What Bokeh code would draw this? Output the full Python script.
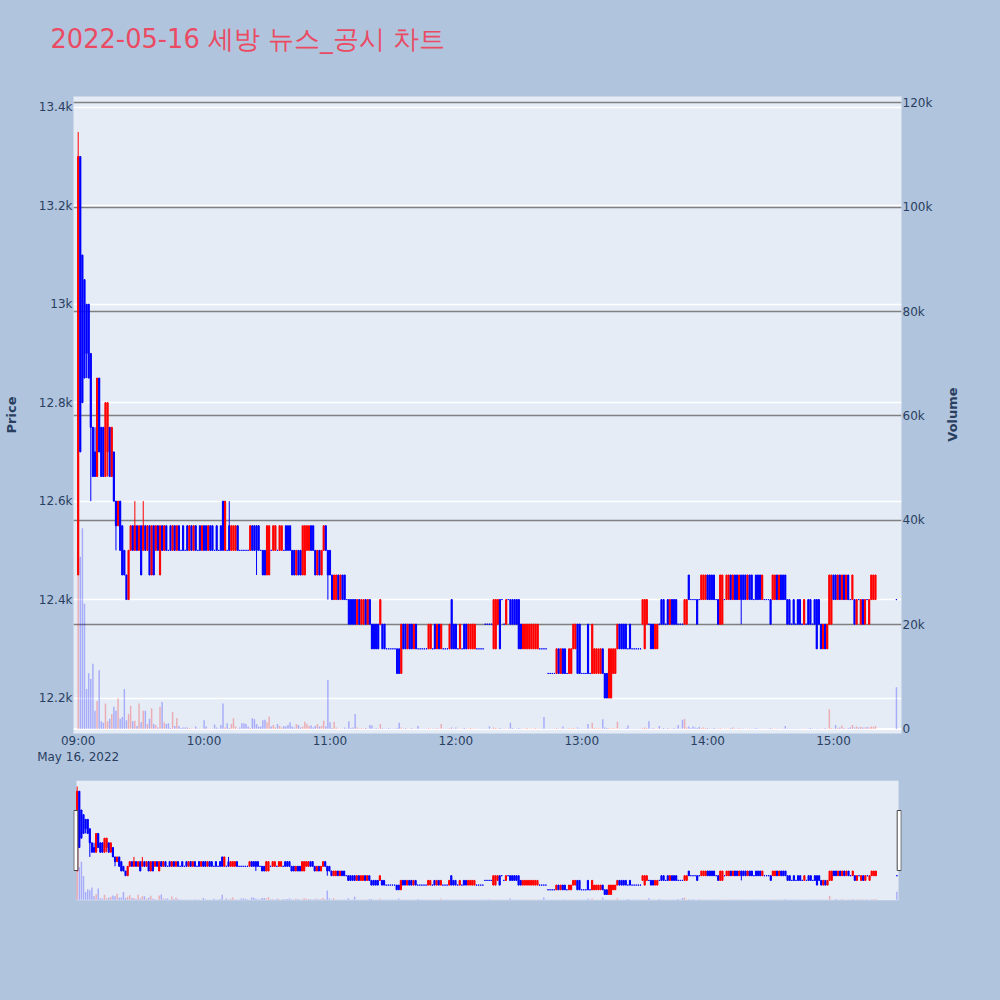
import math
from datetime import datetime, timedelta

from bokeh.plotting import figure
from bokeh.models import (Range1d, LinearAxis, FixedTicker, DatetimeTickFormatter,
                          Grid, Span, ColumnDataSource, BoxAnnotation, Title, Label)
from bokeh.layouts import column
from bokeh.embed import file_html
from bokeh.resources import INLINE

TITLE = "2022-05-16 세방 뉴스_공시 차트"
SESSION_OPEN = datetime(2022, 5, 16, 9, 0)

# minutes after 09:00 that have a candle (15:20-15:30 is the closing auction)
trade_minutes = list(range(0, 381)) + [390]

opens = [
    12450, 13300, 13100, 13050, 13000, 13000, 12900, 12750, 12700, 12650,
    12850, 12750, 12750, 12650, 12700, 12750, 12650, 12700, 12600, 12550,
    12600, 12550, 12500, 12450, 12400, 12500, 12550, 12500, 12550, 12500,
    12550, 12500, 12550, 12500, 12550, 12450, 12550, 12500, 12550, 12450,
    12550, 12500, 12550, 12500, 12550, 12500, 12550, 12500, 12550, 12500,
    12550, 12500, 12550, 12500, 12550, 12500, 12550, 12500, 12550, 12500,
    12550, 12550, 12500, 12550, 12550, 12500, 12550, 12500, 12550, 12600,
    12500, 12500, 12550, 12500, 12500, 12500, 12550, 12500, 12500, 12500,
    12500, 12500, 12500, 12550, 12550, 12550, 12550, 12500, 12500, 12500,
    12450, 12450, 12500, 12500, 12500, 12500, 12500, 12500, 12500, 12550,
    12550, 12550, 12500, 12500, 12450, 12500, 12500, 12450, 12450, 12500,
    12500, 12550, 12550, 12500, 12450, 12500, 12450, 12500, 12550, 12500,
    12500, 12450, 12400, 12400, 12450, 12400, 12450, 12450, 12400, 12400,
    12400, 12400, 12400, 12350, 12400, 12350, 12350, 12400, 12350, 12400,
    12350, 12350, 12350, 12350, 12350, 12350, 12350, 12300, 12300, 12300,
    12300, 12300, 12300, 12300, 12250, 12350, 12350, 12300, 12350, 12350,
    12300, 12350, 12300, 12300, 12300, 12300, 12300, 12300, 12300, 12300,
    12350, 12300, 12350, 12300, 12300, 12300, 12300, 12300, 12400, 12350,
    12350, 12300, 12300, 12300, 12350, 12350, 12300, 12300, 12300, 12300,
    12300, 12300, 12300, 12300, 12350, 12350, 12350, 12350, 12300, 12300,
    12350, 12400, 12400, 12350, 12350, 12400, 12400, 12400, 12400, 12400,
    12400, 12350, 12300, 12300, 12300, 12300, 12300, 12300, 12300, 12300,
    12300, 12300, 12300, 12300, 12250, 12250, 12250, 12250, 12250, 12300,
    12250, 12300, 12300, 12250, 12250, 12250, 12300, 12300, 12350, 12350,
    12250, 12250, 12250, 12350, 12250, 12250, 12250, 12250, 12250, 12250,
    12300, 12250, 12250, 12200, 12200, 12250, 12250, 12300, 12350, 12350,
    12350, 12350, 12300, 12350, 12300, 12300, 12300, 12300, 12300, 12350,
    12300, 12350, 12350, 12350, 12350, 12300, 12300, 12350, 12400, 12400,
    12350, 12400, 12350, 12400, 12400, 12400, 12350, 12350, 12350, 12350,
    12350, 12450, 12400, 12400, 12400, 12400, 12400, 12400, 12400, 12400,
    12450, 12450, 12450, 12450, 12400, 12400, 12350, 12350, 12400, 12400,
    12400, 12450, 12400, 12450, 12450, 12400, 12450, 12450, 12450, 12400,
    12450, 12450, 12400, 12450, 12450, 12450, 12400, 12400, 12400, 12400,
    12400, 12400, 12400, 12450, 12400, 12450, 12450, 12450, 12400, 12400,
    12350, 12400, 12350, 12400, 12400, 12350, 12350, 12350, 12400, 12400,
    12350, 12400, 12400, 12400, 12350, 12300, 12350, 12300, 12350, 12350,
    12450, 12450, 12400, 12450, 12400, 12450, 12400, 12450, 12400, 12400,
    12400, 12350, 12400, 12350, 12400, 12350, 12400, 12350, 12400, 12400,
    12400,
    12400,
]

closes = [
    13300, 12700, 12800, 12850, 12900, 12850, 12750, 12650, 12650, 12850,
    12700, 12650, 12650, 12800, 12800, 12650, 12750, 12600, 12550, 12600,
    12500, 12450, 12450, 12400, 12500, 12550, 12500, 12550, 12500, 12550,
    12450, 12550, 12500, 12550, 12450, 12550, 12450, 12550, 12500, 12550,
    12500, 12550, 12500, 12500, 12500, 12550, 12500, 12550, 12500, 12500,
    12500, 12500, 12500, 12550, 12500, 12550, 12500, 12500, 12500, 12550,
    12500, 12500, 12550, 12500, 12500, 12500, 12500, 12500, 12500, 12500,
    12600, 12500, 12500, 12550, 12550, 12550, 12500, 12500, 12500, 12500,
    12500, 12500, 12550, 12500, 12500, 12500, 12500, 12500, 12450, 12450,
    12550, 12550, 12500, 12550, 12550, 12500, 12550, 12550, 12500, 12500,
    12500, 12500, 12450, 12450, 12500, 12450, 12450, 12550, 12550, 12550,
    12550, 12500, 12500, 12450, 12500, 12450, 12500, 12550, 12500, 12450,
    12450, 12400, 12450, 12450, 12400, 12450, 12400, 12400, 12400, 12350,
    12350, 12350, 12350, 12400, 12350, 12400, 12400, 12350, 12400, 12350,
    12300, 12300, 12300, 12300, 12400, 12300, 12300, 12300, 12300, 12300,
    12300, 12300, 12250, 12250, 12350, 12300, 12300, 12350, 12300, 12300,
    12350, 12300, 12300, 12300, 12300, 12300, 12300, 12350, 12350, 12300,
    12300, 12350, 12300, 12350, 12300, 12300, 12300, 12350, 12300, 12300,
    12300, 12300, 12350, 12300, 12300, 12300, 12350, 12350, 12350, 12350,
    12300, 12300, 12300, 12300, 12350, 12350, 12350, 12350, 12400, 12400,
    12400, 12300, 12400, 12350, 12400, 12400, 12350, 12350, 12350, 12350,
    12300, 12300, 12350, 12350, 12350, 12350, 12350, 12350, 12350, 12350,
    12300, 12300, 12300, 12300, 12250, 12250, 12250, 12250, 12300, 12250,
    12300, 12250, 12250, 12250, 12300, 12300, 12350, 12350, 12250, 12250,
    12250, 12250, 12250, 12250, 12250, 12350, 12300, 12300, 12300, 12300,
    12250, 12200, 12200, 12300, 12300, 12300, 12300, 12350, 12300, 12300,
    12300, 12300, 12300, 12300, 12300, 12300, 12300, 12300, 12300, 12400,
    12400, 12400, 12350, 12300, 12300, 12350, 12350, 12350, 12350, 12350,
    12350, 12350, 12400, 12350, 12350, 12350, 12350, 12350, 12350, 12400,
    12400, 12400, 12400, 12400, 12400, 12350, 12400, 12450, 12450, 12450,
    12400, 12400, 12400, 12400, 12400, 12350, 12450, 12450, 12400, 12450,
    12450, 12400, 12450, 12400, 12400, 12450, 12400, 12400, 12400, 12450,
    12400, 12400, 12400, 12400, 12400, 12400, 12450, 12400, 12400, 12400,
    12350, 12450, 12450, 12400, 12450, 12400, 12400, 12400, 12350, 12350,
    12350, 12350, 12350, 12350, 12350, 12350, 12400, 12350, 12350, 12350,
    12350, 12350, 12300, 12350, 12300, 12350, 12300, 12350, 12450, 12450,
    12400, 12400, 12450, 12400, 12450, 12400, 12450, 12400, 12400, 12450,
    12350, 12400, 12400, 12400, 12350, 12400, 12400, 12400, 12450, 12450,
    12450,
    12400,
]

# wick extremes that reach beyond the candle body (minute index -> price)
wick_highs = {0: 13350, 8: 12750, 27: 12600, 31: 12600, 72: 12600}
wick_lows = {4: 12850, 6: 12600, 14: 12650, 18: 12500, 85: 12450, 119: 12400, 316: 12350}

volumes = [
    36000, 33000, 38500, 24000, 7700, 10700, 9600, 12500, 3500, 5400,
    11300, 1500, 1200, 4900, 1500, 2000, 2900, 4300, 3500, 5900,
    2000, 2300, 7700, 1700, 2900, 4500, 1500, 1600, 600, 4900,
    1300, 3500, 3500, 1000, 2000, 4000, 1000, 800, 300, 4300,
    5200, 1300, 1000, 1100, 200, 3300, 600, 2100, 600, 200,
    300, 300, 300, 200, 100, 100, 500, 100, 100, 100,
    1700, 500, 100, 100, 100, 900, 300, 100, 800, 4900,
    300, 1100, 200, 1000, 2100, 500, 100, 300, 1100, 1100,
    1000, 500, 200, 2100, 1900, 1000, 500, 500, 1700, 1800,
    1300, 2400, 500, 800, 300, 1000, 600, 300, 600, 500,
    800, 1300, 500, 300, 1000, 800, 300, 500, 1400, 1000,
    600, 700, 300, 600, 1000, 500, 600, 1600, 500, 9400,
    1300, 200, 1400, 300, 100, 100, 100, 300, 100, 1500,
    200, 300, 2900, 300, 100, 200, 100, 200, 100, 800,
    700, 100, 200, 100, 1000, 200, 100, 100, 200, 100,
    100, 100, 200, 1200, 300, 100, 200, 100, 100, 200,
    100, 100, 600, 100, 100, 100, 100, 200, 100, 100,
    100, 200, 100, 1000, 100, 100, 100, 200, 300, 100,
    300, 100, 100, 100, 200, 100, 100, 200, 100, 100,
    100, 100, 100, 100, 100, 100, 500, 100, 300, 200,
    100, 200, 100, 100, 100, 100, 1200, 200, 100, 100,
    200, 100, 100, 100, 200, 100, 100, 100, 200, 100,
    100, 100, 2300, 100, 100, 100, 100, 100, 200, 100,
    100, 500, 100, 100, 200, 100, 200, 100, 300, 100,
    100, 100, 100, 1000, 100, 1200, 200, 100, 200, 100,
    1900, 300, 200, 200, 100, 200, 100, 1400, 100, 100,
    100, 200, 700, 100, 100, 100, 100, 100, 100, 200,
    300, 200, 1500, 100, 200, 100, 100, 600, 100, 200,
    100, 200, 100, 100, 200, 100, 800, 100, 1800, 2000,
    300, 500, 200, 500, 300, 200, 400, 200, 300, 200,
    200, 100, 100, 200, 100, 100, 200, 100, 100, 100,
    100, 200, 300, 100, 100, 200, 100, 100, 100, 100,
    100, 100, 100, 200, 100, 100, 100, 100, 100, 100,
    200, 100, 100, 100, 100, 100, 100, 600, 100, 100,
    100, 100, 100, 100, 100, 100, 100, 100, 100, 200,
    100, 100, 100, 100, 100, 100, 200, 100, 3800, 200,
    100, 800, 200, 300, 700, 200, 100, 200, 300, 800,
    300, 500, 300, 400, 300, 300, 400, 300, 500, 400,
    600,
    8000,
]

price_ticks = [12200, 12400, 12600, 12800, 13000, 13200, 13400]
price_tick_labels = ["12.2k", "12.4k", "12.6k", "12.8k", "13k", "13.2k", "13.4k"]
volume_ticks = [0, 20000, 40000, 60000, 80000, 100000, 120000]
volume_tick_labels = ["0", "20k", "40k", "60k", "80k", "100k", "120k"]
hour_ticks = [SESSION_OPEN + timedelta(hours=h) for h in range(7)]

# ---------------------------------------------------------------- styling
PAGE_BG = "#b0c4de"
PLOT_BG = "#e5ecf6"
INC = "#ff0000"
DEC = "#0000ff"
TXT = "#2a3f5f"
FONT = "DejaVu Sans"
MIN = 60000.0


def ms(dt):
    return (dt - datetime(1970, 1, 1)).total_seconds() * 1000.0


times = [SESSION_OPEN + timedelta(minutes=m) for m in trade_minutes]
highs = [wick_highs.get(i, max(o, c)) for i, (o, c) in enumerate(zip(opens, closes))]
lows = [wick_lows.get(i, min(o, c)) for i, (o, c) in enumerate(zip(opens, closes))]
colors = [INC if c > o else DEC for o, c in zip(opens, closes)]

src = ColumnDataSource(dict(
    t=[ms(t) for t in times], o=opens, c=closes, h=highs, l=lows,
    top=[max(o, c) for o, c in zip(opens, closes)],
    bot=[min(o, c) for o, c in zip(opens, closes)],
    v=volumes, color=colors,
))

t_first = ms(times[0])
t_last = ms(times[-1])

PRICE_LO, PRICE_HI = 12128, 13422
VOL_LO, VOL_HI = -840, 121200


def draw_candles(fig):
    fig.segment(x0="t", y0="l", x1="t", y1="h", line_color="color", line_width=1.0, source=src)
    fig.vbar(x="t", top="top", bottom="bot", width=0.55 * MIN, fill_color="color",
             line_color="color", line_width=1.0, source=src)
    fig.vbar(x="t", top="v", bottom=0, width=0.7 * MIN, fill_color="color", fill_alpha=0.27,
             line_color=None, y_range_name="vol", source=src)


# ---------------------------------------------------------------- main chart
p = figure(width=1000, height=777, x_axis_type="datetime",
           x_range=Range1d(t_first - 2.24 * MIN, t_first + 392.4 * MIN),
           y_range=Range1d(PRICE_LO, PRICE_HI),
           output_backend="svg", toolbar_location=None,
           min_border_left=72, min_border_right=98, min_border_top=96, min_border_bottom=44,
           background_fill_color=PLOT_BG, border_fill_color=PAGE_BG, outline_line_color=None,
           title=None)
p.extra_y_ranges = {"vol": Range1d(VOL_LO, VOL_HI)}

# spacer keeps the chart title well above the plotting area
p.add_layout(Title(text=" ", text_font_size="1px", standoff=40), "above")
p.add_layout(Title(text=TITLE, text_font=FONT, text_font_size="25.7px",
                   text_font_style="normal", text_color="#ea4b63", align="left",
                   offset=-23, standoff=0), "above")

p.xgrid.visible = False
p.ygrid.ticker = FixedTicker(ticks=price_ticks)
p.ygrid.grid_line_color = "white"
p.ygrid.grid_line_width = 1.5

vgrid = Grid(dimension=1, ticker=FixedTicker(ticks=volume_ticks[1:]), y_range_name="vol",
             grid_line_color="#808080", grid_line_width=1.5)
p.add_layout(vgrid)
p.add_layout(Span(location=0, dimension="width", y_range_name="vol",
                  line_color="white", line_width=2, level="underlay"))

left = p.left[0]
left.ticker = FixedTicker(ticks=price_ticks)
left.major_label_overrides = dict(zip(price_ticks, price_tick_labels))
left.axis_label = "Price"

right = LinearAxis(y_range_name="vol", ticker=FixedTicker(ticks=volume_ticks),
                   major_label_overrides=dict(zip(volume_ticks, volume_tick_labels)))
p.add_layout(right, "right")

# secondary-axis title in its own side panel, reading bottom-to-top
p.add_layout(Label(x=17, y=319, x_units="screen", y_units="screen", text="Volume",
                   angle=math.pi / 2, text_align="center", text_baseline="middle",
                   text_font=FONT, text_font_size="13px", text_font_style="bold",
                   text_color=TXT), "right")

bottom = p.below[0]
bottom.ticker = FixedTicker(ticks=[ms(t) for t in hour_ticks])
fmt_kw = dict(seconds="%H:%M", minsec="%H:%M", minutes="%H:%M", hourmin="%H:%M",
              hours="%H:%M", days="%H:%M")
ctx_kw = {k: "%b %d, %Y" for k in fmt_kw}
bottom.formatter = DatetimeTickFormatter(**fmt_kw, context=DatetimeTickFormatter(**ctx_kw),
                                         context_which="start")

for ax in (left, right, bottom):
    ax.axis_line_color = None
    ax.major_tick_line_color = None
    ax.minor_tick_line_color = None
    ax.major_tick_out = 0
    ax.major_tick_in = 0
    ax.minor_tick_out = 0
    ax.minor_tick_in = 0
    ax.major_label_text_font = FONT
    ax.major_label_text_font_size = "12px"
    ax.major_label_text_color = TXT
    ax.axis_label_text_font = FONT
    ax.axis_label_text_font_size = "13px"
    ax.axis_label_text_font_style = "bold"
    ax.axis_label_text_color = TXT
left.major_label_standoff = 1
left.axis_label_standoff = 17
right.major_label_standoff = 1
bottom.major_label_standoff = 0

draw_candles(p)

# ---------------------------------------------------------------- range slider
s = figure(width=1000, height=133, x_axis_type="datetime",
           x_range=Range1d(t_first - 1.76 * MIN, t_first + 392.2 * MIN),
           y_range=Range1d(PRICE_LO + 8, PRICE_HI - 8),
           output_backend="svg", toolbar_location=None,
           x_axis_location=None, y_axis_location=None,
           min_border_left=73, min_border_right=99, min_border_top=3, min_border_bottom=10,
           background_fill_color=PAGE_BG, border_fill_color=PAGE_BG, outline_line_color=None)
s.extra_y_ranges = {"vol": Range1d(VOL_LO, VOL_HI)}
s.grid.visible = False
slider_lo = t_first - 0.33 * MIN
slider_hi = t_last + 0.8 * MIN
s.add_layout(BoxAnnotation(left=slider_lo, right=slider_hi, fill_color=PLOT_BG, fill_alpha=1.0,
                           line_color=None, level="underlay"))
draw_candles(s)
mid = (PRICE_LO + PRICE_HI) / 2
s.rect(x=[slider_lo - 0.3 * MIN, slider_hi + 0.3 * MIN], y=[mid, mid], width=4, height=60,
       width_units="screen", height_units="screen", fill_color="white",
       line_color="#444444", line_width=1)

layout = column(p, s, spacing=0)

template = """
{% block preamble %}
<style>html, body { background-color: #b0c4de; }</style>
{% endblock %}
"""
open("out.html", "w").write(file_html(layout, INLINE, title="chart", template=template))
